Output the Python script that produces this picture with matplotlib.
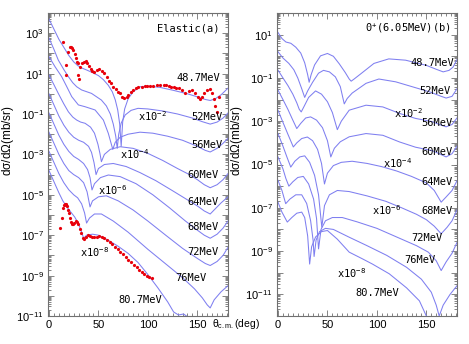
#!/usr/bin/env python

# import libraries
import math
import matplotlib
matplotlib.use("Agg")
import matplotlib.pyplot as plt
from matplotlib import font_manager
from matplotlib.ticker import LogLocator, FuncFormatter, MultipleLocator

# ---------------------------------------------------------------------------
# data: every curve is a list of (theta [deg], log10 of dsigma/dOmega [mb/sr])
# ---------------------------------------------------------------------------

# (a) elastic, calculated curves (offsets already applied as in the figure)
el_48_7 = [(0, 3.70), (5, 3.20), (10, 2.70), (15, 2.30), (20, 1.90), (25, 1.58), (29, 1.40),
           (33, 1.28), (38, 1.18), (44, 1.05), (50, 0.90), (55, 0.70), (60, 0.42), (64, 0.10),
           (67, -0.30), (69.5, -0.80), (71.5, -1.50), (73, -2.60), (74.5, -1.40), (76.5, -0.75),
           (80, -0.25), (85, 0.10), (92, 0.35), (100, 0.38), (112, 0.32), (125, 0.18), (140, 0.0),
           (150, -0.15), (158, -0.28), (163, -0.33), (168, -0.25), (174, -0.05), (181, 0.28)]
el_52 = [(0, 2.76), (5, 2.20), (9.4, 1.67), (15, 1.20), (19.6, 0.85), (24, 0.55), (28, 0.35),
         (33, 0.19), (43, 0.02), (53, -0.31), (58, -0.60), (62, -1.0), (65, -1.5), (67.5, -2.1),
         (69, -2.7), (70.5, -2.0), (73, -1.45), (77, -1.05), (83, -0.82), (90, -0.72), (100, -0.75),
         (115, -0.85), (130, -1.0), (145, -1.2), (155, -1.38), (163, -1.5), (170, -1.4),
         (176, -1.2), (181, -0.95)]
el_56 = [(0, 1.84), (6, 1.35), (12.8, 0.85), (18, 0.35), (23, -0.14), (29.7, -0.55), (36.5, -0.64),
         (46.6, -0.80), (55, -1.3), (60, -1.96), (62.5, -2.4), (64.5, -2.75), (67, -2.4),
         (72, -2.15), (80, -2.0), (92, -1.9), (105, -1.95), (120, -2.1), (135, -2.3), (150, -2.6),
         (158, -2.8), (163, -2.88), (170, -2.7), (176, -2.45), (181, -2.2)]
el_60 = [(0, 0.93), (5, 0.45), (9.4, 0.02), (15, -0.5), (19.6, -0.89), (24, -1.15), (28, -1.3),
         (32, -1.4), (36.5, -1.46), (42, -1.65), (46, -1.95), (49.5, -2.5), (51.5, -2.95),
         (53, -3.36), (56, -3.0), (62, -2.75), (72, -2.62), (85, -2.7), (100, -2.95), (115, -3.3),
         (130, -3.7), (142, -4.0), (150, -4.25), (157, -4.5), (163, -4.65), (170, -4.5),
         (176, -4.25), (181, -3.95)]
el_64 = [(0, 0.0), (5, -0.55), (10, -1.1), (15, -1.55), (20, -1.9), (25, -2.15), (30, -2.3),
         (35, -2.4), (40, -2.6), (43, -2.9), (45.5, -3.4), (47.6, -4.0), (50, -3.7), (56, -3.5),
         (65, -3.45), (78, -3.6), (92, -3.9), (108, -4.3), (125, -4.8), (140, -5.25), (150, -5.55),
         (157, -5.8), (163, -5.95), (168, -5.7), (174, -5.4), (181, -5.1)]
el_68 = [(0, -0.95), (5, -1.5), (10, -2.05), (15, -2.5), (20, -2.85), (25, -3.1), (30, -3.25),
         (35, -3.45), (39, -3.75), (41.5, -4.15), (43.5, -4.76), (46, -4.45), (52, -4.15),
         (60, -4.02), (72, -4.1), (88, -4.45), (105, -5.0), (122, -5.65), (138, -6.3), (150, -6.75),
         (157, -7.0), (163, -7.15), (170, -6.95), (176, -6.65), (181, -6.3)]
el_72 = [(0, -1.9), (5, -2.45), (10, -3.0), (15, -3.45), (20, -3.8), (25, -4.0), (30, -4.15),
         (35, -4.4), (38.5, -4.85), (41.5, -5.6), (44, -5.3), (50, -5.1), (58, -5.05), (70, -5.3),
         (85, -5.75), (100, -6.3), (118, -7.0), (135, -7.65), (150, -8.15), (158, -8.4),
         (163, -8.5), (170, -8.3), (176, -8.0), (181, -7.6)]
el_76 = [(0, -2.85), (5, -3.4), (10, -3.95), (15, -4.4), (20, -4.75), (25, -5.0), (29, -5.15),
         (33, -5.45), (36, -5.9), (38, -6.4), (41, -6.15), (46, -5.95), (53, -5.95), (65, -6.3),
         (80, -6.85), (100, -7.7), (120, -8.5), (135, -9.1), (147, -9.65), (155, -10.1),
         (160, -10.45), (163, -10.6), (167, -10.2), (174, -9.8), (181, -9.5)]
el_80_7 = [(0, -3.8), (5, -4.35), (10, -4.9), (14, -5.3), (18, -5.6), (22, -5.85), (26, -6.1),
           (30, -6.45), (33, -6.85), (35, -7.15), (38, -7.0), (44, -6.95), (50, -7.0), (60, -7.25),
           (70, -7.55), (80, -7.9), (90, -8.35), (100, -8.95), (110, -9.6), (120, -10.3),
           (126, -10.8), (131, -10.95), (136, -10.9), (142, -11.1), (150, -11.8), (160, -12.5),
           (181, -12.5)]

# (a) measured points, 48.7 MeV and 80.7 MeV (x10^-8)
el_data_48_7 = [(14.5, 2.58), (16.9, 1.43), (17.2, 0.93), (19.6, 2.08), (21.3, 2.33), (22.3, 2.30),
                (23.0, 2.25), (24.6, 2.15), (26.3, 1.95), (27.0, 1.79), (28.0, 1.59), (29.0, 1.51),
                (29.7, 0.93), (30.4, 0.72), (31.4, 1.31), (33.8, 1.51), (35.8, 1.59), (37.5, 1.60),
                (38.2, 1.54), (40.5, 1.38), (42.0, 1.25), (43.2, 1.13), (45.9, 1.10), (48.3, 1.18),
                (51.0, 1.21), (53.4, 1.13), (56.0, 1.01), (58.5, 0.85), (60.8, 0.63), (62.8, 0.52),
                (65.2, 0.35), (67.6, 0.22), (69.6, 0.10), (71.9, 0.02), (74.3, -0.18), (76.3, -0.22),
                (78.7, -0.18), (80.3, -0.06), (83.1, 0.10), (85.4, 0.19), (87.8, 0.27), (90.5, 0.32),
                (93.9, 0.35), (96.6, 0.39), (99.5, 0.38), (102.3, 0.39), (105.5, 0.41), (109.1, 0.42),
                (112.5, 0.43), (115.8, 0.44), (118.5, 0.42), (120.9, 0.40), (123.5, 0.36),
                (126.0, 0.32), (128.5, 0.30), (131.0, 0.27), (134.4, 0.19), (137.8, 0.05),
                (141.1, 0.15), (144.6, 0.19), (147.9, 0.05), (150.6, -0.14), (153.0, -0.27),
                (155.0, -0.17), (157.0, 0.02), (159.8, 0.19), (162.4, 0.24), (164.8, 0.05),
                (166.5, -0.27), (168.2, -0.60), (169.9, -0.89), (172.2, -0.14)]
el_data_80_7 = [(11.1, -6.63), (12.8, -6.16), (14.5, -5.67), (15.5, -5.50), (16.2, -5.45),
                (16.9, -5.47), (17.5, -5.50), (18.2, -5.54), (18.9, -5.75), (20.3, -5.92),
                (21.3, -6.16), (22.3, -6.33), (23.6, -6.46), (24.6, -6.43), (25.6, -6.41),
                (27.0, -6.30), (28.4, -6.33), (29.7, -6.46), (31.1, -6.69), (32.4, -6.91),
                (34.1, -7.12), (35.8, -7.19), (37.8, -7.07), (39.8, -6.99), (41.8, -7.02),
                (43.9, -7.07), (45.9, -7.10), (48.3, -7.07), (50.7, -7.04), (53.4, -7.09),
                (56.0, -7.15), (58.8, -7.24), (61.5, -7.35), (64.1, -7.45), (66.9, -7.57),
                (69.6, -7.68), (72.3, -7.82), (75.0, -7.95), (77.7, -8.08), (80.3, -8.21),
                (83.1, -8.34), (85.8, -8.48), (88.5, -8.59), (91.2, -8.71), (93.9, -8.81),
                (96.5, -8.90), (99.0, -9.00), (101.5, -9.08), (104.0, -9.13)]

# (b) 0+ (6.05 MeV), calculated curves
in_48_7 = [(0, 1.10), (4, 0.82), (8, 0.66), (13, 0.60), (18, 0.42), (23, 0.15), (27, -0.30),
           (30, -0.85), (31.5, -1.20), (33.5, -0.85), (37, -0.40), (43, 0.02), (50, 0.13), (56, 0.0),
           (62, -0.35), (68, -0.75), (72, -1.05), (74, -1.15), (77, -1.05), (84, -0.80), (97, -0.33),
           (112, -0.12), (129, -0.18), (150, -0.42), (160, -0.60), (167, -0.72), (173, -0.65),
           (177, -0.50), (181, -0.15)]
in_52 = [(0, 0.21), (5, -0.08), (11, -0.33), (16, -0.62), (20, -1.0), (24, -1.5), (27, -1.9),
         (30, -1.6), (35, -1.2), (41, -0.78), (46, -0.65), (52, -0.72), (58, -0.95), (63, -1.4),
         (67, -2.2), (70, -1.95), (75, -1.7), (89, -1.25), (102, -1.05), (119, -1.18), (136, -1.41),
         (153, -1.64), (165, -1.85), (170, -1.93), (176, -1.85), (181, -1.5)]
in_56 = [(0, -0.64), (5, -1.0), (10, -1.35), (15, -1.75), (19, -2.15), (21.5, -2.45), (23.5, -2.57),
         (26, -2.35), (31, -1.9), (38, -1.6), (44, -1.75), (50, -2.1), (55, -2.6), (60, -3.39),
         (64, -3.0), (72, -2.49), (89, -2.26), (106, -2.34), (123, -2.64), (139, -2.87),
         (156, -3.02), (163, -3.15), (170, -3.26), (176, -3.15), (181, -2.85)]
in_60 = [(0, -1.56), (5, -2.0), (10, -2.45), (15, -2.95), (19, -3.34), (23, -3.1), (28, -2.85),
         (33, -2.8), (39, -2.95), (45, -3.3), (50, -3.9), (53.4, -4.65), (57, -4.25), (63, -3.95),
         (72, -3.72), (89, -3.57), (106, -3.65), (123, -3.96), (139, -4.2), (156, -4.36),
         (163, -4.5), (170, -4.65), (176, -4.5), (181, -4.15)]
in_64 = [(0, -2.49), (5, -3.05), (10, -3.6), (15.5, -4.19), (19, -4.0), (24, -3.8), (29.7, -3.73),
         (35, -3.9), (40, -4.3), (44, -4.95), (47, -5.9), (50, -5.4), (56, -5.05), (64, -4.9),
         (75, -4.85), (90, -4.95), (105, -5.1), (120, -5.3), (135, -5.55), (150, -5.85),
         (158, -6.2), (165, -6.74), (170, -6.5), (176, -6.2), (181, -5.75)]
in_68 = [(0, -3.57), (5, -4.15), (9, -4.65), (12.9, -5.12), (17, -4.85), (22, -4.65), (27, -4.6),
         (32, -4.9), (37, -5.5), (41, -6.4), (44.3, -7.9), (47, -6.9), (52, -6.4), (60, -6.2),
         (72, -6.25), (90, -6.45), (109, -6.7), (125, -7.0), (140, -7.3), (150, -7.55),
         (158, -7.85), (165, -8.2), (171, -7.9), (176, -7.6), (181, -7.1)]
in_72 = [(0, -4.65), (5, -5.2), (8, -5.65), (11, -6.0), (15, -5.8), (20, -5.6), (25.6, -5.55),
         (31, -5.9), (36, -6.6), (39, -7.5), (41, -8.9), (43.5, -8.0), (48, -7.6), (55, -7.45),
         (65, -7.45), (80, -7.65), (100, -7.95), (120, -8.35), (140, -8.75), (152, -9.05),
         (160, -9.45), (165, -9.9), (170, -9.5), (176, -9.1), (181, -8.6)]
in_76 = [(0, -5.73), (4, -6.2), (7.8, -6.81), (12, -6.6), (18, -6.4), (24, -6.4), (29, -6.8),
         (33, -7.6), (35.5, -8.5), (36.5, -9.25), (38.5, -8.5), (42, -8.1), (48, -7.95), (56, -8.0),
         (72, -8.36), (90, -8.75), (110, -9.2), (130, -9.75), (145, -10.3), (155, -10.9),
         (160, -11.5), (163, -12.0), (167, -11.5), (174, -11.0), (181, -10.6)]
in_80_7 = [(0, -6.74), (4, -7.2), (9.4, -7.66), (14, -7.45), (19, -7.25), (24, -7.2), (27, -7.45),
           (30, -8.3), (32, -9.6), (34, -8.8), (38, -8.35), (44, -8.1), (50, -8.05), (60, -8.45),
           (72, -9.05), (85, -9.35), (95.5, -9.6), (112.5, -10.05), (130, -10.7), (143, -11.3),
           (150, -12.0), (160, -12.6), (170, -12.4), (181, -12.2)]

energy_labels = ["48.7MeV", "52MeV", "56MeV", "60MeV", "64MeV", "68MeV", "72MeV", "76MeV", "80.7MeV"]
offset_labels = ["x10$^{-2}$", "x10$^{-4}$", "x10$^{-6}$", "x10$^{-8}$"]

el_curves = [el_48_7, el_52, el_56, el_60, el_64, el_68, el_72, el_76, el_80_7]
in_curves = [in_48_7, in_52, in_56, in_60, in_64, in_68, in_72, in_76, in_80_7]

# label positions (axes fractions), same order as the lists above
el_energy_pos = [(0.833, 0.785), (0.883, 0.657), (0.883, 0.564), (0.861, 0.465), (0.861, 0.376),
                 (0.861, 0.294), (0.861, 0.211), (0.794, 0.125), (0.511, 0.053)]
el_offset_pos = [(0.583, 0.660), (0.483, 0.535), (0.361, 0.416), (0.261, 0.211)]
in_energy_pos = [(0.861, 0.835), (0.878, 0.743), (0.889, 0.637), (0.889, 0.541), (0.889, 0.442),
                 (0.889, 0.347), (0.833, 0.257), (0.794, 0.185), (0.556, 0.076)]
in_offset_pos = [(0.728, 0.670), (0.672, 0.505), (0.611, 0.350), (0.417, 0.142)]


# pick the first font of a list that is really installed
def pick_font( names ):
    for n in names:
        try:
            font_manager.findfont( font_manager.FontProperties(family=n), fallback_to_default=False )
            return n
        except ValueError:
            pass
    return "DejaVu Sans"

tick_font = pick_font( ["Liberation Sans Narrow", "Liberation Sans"] )
text_font = pick_font( ["DejaVu Sans Mono", "Liberation Mono"] )

plt.rcParams["font.family"] = [tick_font, "DejaVu Sans"]
plt.rcParams["mathtext.fontset"] = "custom"
plt.rcParams["mathtext.rm"] = tick_font
plt.rcParams["mathtext.it"] = tick_font + ":italic"
plt.rcParams["mathtext.default"] = "regular"

curve_color = "#7f7ff0"
data_color = "#e8000b"
frame_color = "#707070"


# only odd exponents carry a label
def odd_decades( v, pos ):
    e = int( round( math.log10( v ) ) )
    if e % 2 == 0:
        return ""
    return "10$^{%d}$" % e

def style_axis( ax, ylim ):
    ax.set_yscale( "log" )
    ax.set_xlim( -1, 181 )
    ax.set_ylim( *ylim )
    ax.xaxis.set_major_locator( MultipleLocator(50) )
    ax.xaxis.set_minor_locator( MultipleLocator(5) )
    ax.yaxis.set_major_locator( LogLocator(base=10, numticks=40) )
    ax.yaxis.set_minor_locator( LogLocator(base=10, subs=range(2, 10), numticks=40) )
    ax.yaxis.set_major_formatter( FuncFormatter(odd_decades) )
    ax.tick_params( which="both", direction="in", top=True, right=True, color=frame_color,
                    width=0.6, labelsize=8, pad=3 )
    ax.tick_params( which="major", length=4 )
    ax.tick_params( which="minor", length=2 )
    for s in ax.spines.values():
        s.set_color( frame_color )
        s.set_linewidth( 0.8 )
    ax.set_ylabel( r"d$\sigma$/d$\Omega$(mb/sr)", fontsize=8.5, labelpad=2 )

def draw_curves( ax, curves ):
    for pts in curves:
        th = [p[0] for p in pts]
        val = [10.0 ** p[1] for p in pts]
        ax.plot( th, val, color=curve_color, lw=0.75, clip_on=True )

def draw_data( ax, pts ):
    th = [p[0] for p in pts]
    val = [10.0 ** p[1] for p in pts]
    ax.plot( th, val, "o", color=data_color, ms=2.3, mew=0, zorder=3 )

def put_labels( ax, names, positions ):
    for name, (x, y) in zip( names, positions ):
        ax.text( x, y, name, transform=ax.transAxes, ha="center", va="center",
                 fontsize=7.5, family=[text_font, tick_font] )


fig = plt.figure( figsize=(4.69, 3.44), dpi=100 )
ax1 = fig.add_axes( [48/469, 1-316/344, 180/469, 303/344] )
ax2 = fig.add_axes( [277/469, 1-316/344, 180/469, 303/344] )

# (a) elastic
style_axis( ax1, (1e-11, 1e4) )
draw_curves( ax1, el_curves )
draw_data( ax1, el_data_48_7 )
draw_data( ax1, el_data_80_7 )
put_labels( ax1, energy_labels, el_energy_pos )
put_labels( ax1, offset_labels, el_offset_pos )
ax1.text( 0.778, 0.950, "Elastic(a)", transform=ax1.transAxes, ha="center", va="center",
          fontsize=7.5, family=[text_font, tick_font] )
ax1.yaxis.set_label_coords( -0.175, 0.58 )

# (b) 0+ state
style_axis( ax2, (1e-12, 1e2) )
draw_curves( ax2, in_curves )
put_labels( ax2, energy_labels, in_energy_pos )
put_labels( ax2, offset_labels, in_offset_pos )
ax2.text( 0.728, 0.950, "0$^{+}$(6.05MeV)(b)", transform=ax2.transAxes, ha="center", va="center",
          fontsize=7.5, family=[text_font, tick_font] )
ax2.yaxis.set_label_coords( -0.18, 0.58 )

# shared x label, sitting between the two panels
fig.text( 236/469, 1-324/344, r"$\theta_{c.m.}$(deg)", ha="center", va="center", fontsize=7.5 )

fig.savefig( "out.png", dpi=100 )
